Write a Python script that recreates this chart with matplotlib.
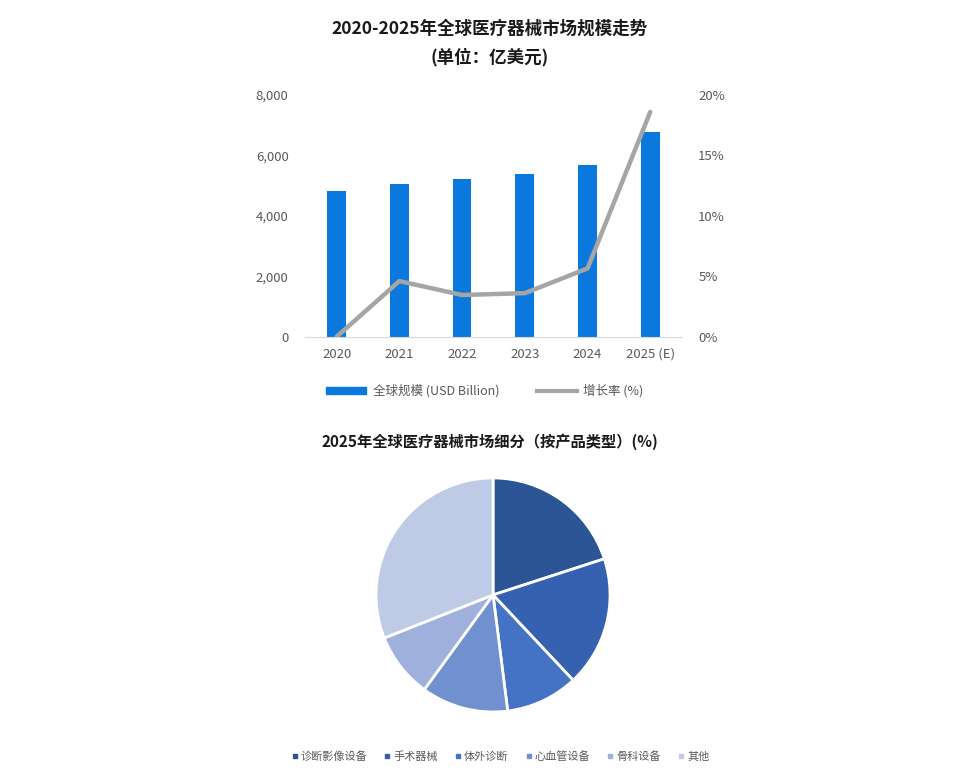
import matplotlib.pyplot as plt
from matplotlib.lines import Line2D
from matplotlib.patches import Patch

plt.rcParams['font.family'] = ['Noto Sans CJK SC', 'DejaVu Sans']

years = ["2020", "2021", "2022", "2023", "2024", "2025 (E)"]
market_size = [4820, 5050, 5220, 5390, 5690, 6790]
growth_rate = [0.0, 4.6, 3.45, 3.6, 5.65, 18.6]

segments = ["诊断影像设备", "手术器械", "体外诊断", "心血管设备", "骨科设备", "其他"]
shares = [20, 18, 10, 12, 9, 31]
seg_colors = ["#2C5596", "#3660B0", "#4472C4", "#7090D0", "#A0B0DC", "#BFCAE6"]

txt = "#595959"

fig = plt.figure(figsize=(9.6, 7.77), dpi=100)

# top: market size bars + growth line
ax = fig.add_axes([0.318, 0.5667, 0.392, 0.311])
x = range(len(years))
ax.bar(x, market_size, width=0.3, color="#0A78DC", zorder=2)
ax.set_ylim(0, 8000)
ax.set_xlim(-0.5, len(years) - 0.5)
ax.set_yticks([0, 2000, 4000, 6000, 8000])
ax.set_yticklabels(["0", "2,000", "4,000", "6,000", "8,000"])
ax.set_xticks(list(x))
ax.set_xticklabels(years)
for s in ["top", "right", "left"]:
    ax.spines[s].set_visible(False)
ax.spines["bottom"].set_color("#D9D9D9")
ax.tick_params(axis="both", length=0, labelsize=9.5, colors=txt)
ax.tick_params(axis="y", pad=12)
ax.tick_params(axis="x", pad=8)

ax2 = ax.twinx()
ax2.plot(x, growth_rate, color="#A5A5A5", lw=3.2, solid_capstyle="round", zorder=3)
ax2.set_ylim(0, 20)
ax2.set_yticks([0, 5, 10, 15, 20])
ax2.set_yticklabels(["0%", "5%", "10%", "15%", "20%"])
for s in ["top", "right", "left", "bottom"]:
    ax2.spines[s].set_visible(False)
ax2.tick_params(axis="y", length=0, labelsize=9.5, colors=txt, pad=12)

handles = [Patch(color="#0A78DC"), Line2D([], [], color="#A5A5A5", lw=3)]
fig.legend(handles, ["全球规模 (USD Billion)", "增长率 (%)"], loc="center",
           bbox_to_anchor=(0.505, 0.497), ncol=2, frameon=False, fontsize=9,
           labelcolor=txt, handlelength=3.2, handleheight=0.5, columnspacing=3,
           handletextpad=0.5)

fig.text(0.51, 0.963, "2020-2025年全球医疗器械市场规模走势", ha="center", va="center",
         fontsize=12.6, fontweight="bold", color="#1a1a1a")
fig.text(0.51, 0.926, "(单位：亿美元)", ha="center", va="center",
         fontsize=12.6, fontweight="bold", color="#1a1a1a")

# bottom: segment pie
fig.text(0.51, 0.432, "2025年全球医疗器械市场细分（按产品类型）(%)", ha="center", va="center",
         fontsize=11, fontweight="bold", color="#1a1a1a")

pax = fig.add_axes([0.3917, 0.0837, 0.24375, 0.3012])
pax.pie(shares, colors=seg_colors, startangle=90, counterclock=False,
        wedgeprops=dict(edgecolor="white", linewidth=2))
pax.set_xlim(-1, 1)
pax.set_ylim(-1, 1)

mk = [Line2D([], [], marker="s", ls="", color=c, markersize=3.2) for c in seg_colors]
fig.legend(mk, segments, loc="center", bbox_to_anchor=(0.52, 0.026), ncol=6,
           frameon=False, fontsize=8, labelcolor=txt, handletextpad=0.05,
           columnspacing=1.3, handlelength=1)

fig.savefig("out.png", dpi=100, facecolor="white")
